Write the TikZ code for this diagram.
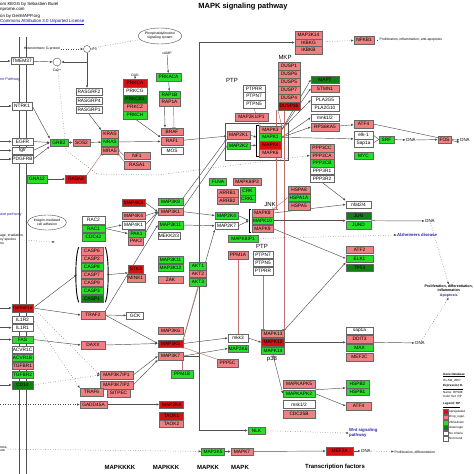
\documentclass[tikz,border=0pt]{standalone}
\usepackage{fontspec}
\setmainfont{Liberation Sans}
\usetikzlibrary{arrows.meta,shapes.geometric}
\definecolor{pinkc}{RGB}{238,128,128}
\definecolor{redc}{RGB}{212,16,16}
\definecolor{greenc}{RGB}{40,222,40}
\definecolor{dgreenc}{RGB}{16,128,16}
\definecolor{linec}{RGB}{80,80,80}
\definecolor{inhc}{RGB}{190,112,112}
\definecolor{pathc}{RGB}{40,40,170}
\pgfdeclarelayer{bg}
\pgfsetlayers{bg,main}

\begin{document}
\begin{tikzpicture}[x=1pt,y=-1pt,
  gene/.style={draw=black!60,line width=.4pt,minimum width=#1,minimum height=7.4pt,inner sep=0pt,font=\fontsize{4.8}{5}\selectfont},
  gene/.default=22pt,
  pk/.style={fill=pinkc},rd/.style={fill=redc},gn/.style={fill=greenc},dg/.style={fill=dgreenc},wh/.style={fill=white},
  lab/.style={font=\fontsize{6}{6}\selectfont,inner sep=0pt},
  note/.style={font=\fontsize{3.4}{3.9}\selectfont,inner sep=.5pt},
  dna/.style={font=\fontsize{4.4}{4.4}\selectfont,inner sep=.5pt},
  hdr/.style={font=\fontsize{4.4}{4.4}\selectfont,inner sep=0pt},
  lgd/.style={font=\fontsize{3}{3}\selectfont,inner sep=0pt},
  keybox/.style={draw=black!60,line width=.3pt,minimum size=4.5pt,inner sep=0pt},
  pathway/.style={font=\bfseries\fontsize{4.3}{4.8}\selectfont,text=pathc,inner sep=0pt},
  edgepath/.style={font=\fontsize{3.8}{4}\selectfont,text=pathc,inner sep=0pt},
  tier/.style={font=\bfseries\fontsize{6}{6}\selectfont,inner sep=0pt},
  arr/.style={draw=linec,line width=.45pt,-{Latex[length=2.6pt,width=2.2pt]}},
  con/.style={draw=linec,line width=.45pt},
  inh/.style={draw=inhc,line width=.45pt,-{Bar[width=3.5pt]}},
  dots/.style={draw=linec,line width=.5pt,dotted},
  brk/.style={draw=black,line width=.9pt}]
\useasboundingbox (0,0) rectangle (474,474);

% header and title
\node[font=\bfseries\fontsize{7.5}{7.5}\selectfont] (title) at (243,7) {MAPK signaling pathway};
\node[hdr,anchor=west] (hd1) at (0,4) {om KEGG by Sebastien Burel};
\node[hdr,anchor=west] (hd2) at (0,10) {nprome.com};
\node[hdr,anchor=west] (hd3) at (0,16) {on by GenMAPP.org};
\node[hdr,anchor=west,text=blue!75!black] (hd4) at (0,22) {\underline{Commons Attribution 3.0 Unported License}};

% calcium and PKC
\node[gene,wh,line width=.7pt] (TMEM37) at (22,61) {TMEM37};
\node[circle,draw=linec,minimum size=8pt,inner sep=0pt] (Ca) at (57,62) {};
\node[note] (Calab) at (57,70) {Ca2+};
\node[circle,draw=linec,minimum size=7pt,inner sep=0pt] (IP3) at (87,49) {};
\node[note,anchor=west] (IP3lab) at (91,49) {IP3};
\node[note] (hetG) at (42,49) {Heterotrimeric G-protein};
\node[ellipse,draw=linec,minimum width=44pt,minimum height=16pt,inner sep=0pt,align=center,font=\fontsize{3.4}{3.8}\selectfont] (PIS) at (160,36) {Phosphatidylinositol\\signaling system};
\node[edgepath,anchor=west] (paA) at (0,80) {ne Pathway};
\node[gene=20pt,wh] (NTRK1) at (22,106) {NTRK1};
\node[gene=26pt,wh,line width=.7pt] (RASGRF2) at (89,92) {RASGRF2};
\node[gene=26pt,wh,line width=.7pt] (RASGRP4) at (89,101) {RASGRP4};
\node[gene=26pt,wh,line width=.7pt] (RASGRP1) at (89,110) {RASGRP1};
\node[note] (DAG) at (135,75) {DAG};
\node[gene=24pt,rd] (PRKCA) at (135,83) {PRKCA};
\node[gene=24pt,wh] (PRKCG) at (135,91) {PRKCG};
\node[gene=24pt,dg] (PRKCB1) at (135,99) {PRKCB1};
\node[gene=24pt,pk] (PRKCZ) at (135,107) {PRKCZ};
\node[gene=24pt,gn] (PRKCH) at (135,115) {PRKCH};
\node[note] (cAMP) at (167,53) {cAMP};
\node[gene=25pt,gn] (PRKACA) at (168.5,77) {PRKACA};
\node[gene=21pt,gn] (RAP1B) at (169.5,95) {RAP1B};
\node[gene=21pt,pk] (RAP1A) at (169.5,102) {RAP1A};

% NF-kB branch
\node[gene=27pt,pk] (MAP3K14) at (308.5,35) {MAP3K14};
\node[gene=27pt,pk] (IKBKG) at (308.5,42.5) {IKBKG};
\node[gene=27pt,pk] (IKBKB) at (308.5,50) {IKBKB};
\node[gene=20pt,pk] (NFKB1) at (364,40) {NFKB1};
\node[note,anchor=west] (prolA) at (379,40) {Proliferation, inflammation, anti-apoptosis};

% phosphatases
\node[lab] (MKP) at (285,57) {MKP};
\node[gene,pk] (DUSP1) at (289,66) {DUSP1};
\node[gene,pk] (DUSP6) at (289,74) {DUSP6};
\node[gene,pk] (DUSP5) at (289,82) {DUSP5};
\node[gene,pk] (DUSP7) at (289,90) {DUSP7};
\node[gene,pk] (DUSP4) at (289,98) {DUSP4};
\node[gene,rd] (DUSP16) at (289,106) {DUSP16};
\node[lab] (PTPa) at (232,80) {PTP};
\node[gene,wh] (PTPRR) at (254,88.5) {PTPRR};
\node[gene,wh] (PTPN7) at (254,96) {PTPN7};
\node[gene,wh] (PTPN5) at (254,104) {PTPN5};

% ERK targets
\node[gene=28pt,dg] (MAPT) at (325,79.5) {MAPT};
\node[gene=28pt,pk] (STMN1) at (325,88.5) {STMN1};
\node[gene=28pt,wh] (PLA2G5) at (325,100) {PLA2G5};
\node[gene=28pt,wh] (PLA2G10) at (325,107.5) {PLA2G10};
\node[gene=28pt,wh] (mnk12) at (325,117.5) {mnk1/2};
\node[gene=28pt,pk] (RPS6KA5) at (325,127) {RPS6KA5};
\node[gene=19pt,pk] (ATF4a) at (363.5,124) {ATF4};
\node[gene=19pt,wh] (elk1) at (363.5,135) {elk-1};
\node[gene=19pt,wh] (Sap1a) at (363.5,143) {Sap1a};
\node[gene=15pt,gn] (SRF) at (386.5,139.5) {SRF};
\node[dna] (dnaA) at (411,140) {DNA};
\node[gene=13pt,pk] (FOS) at (444.5,139.5) {FOS};
\node[dna] (dnaB) at (465,140) {DNA};
\node[gene=19pt,gn] (MYC) at (363.5,155.5) {MYC};
\node[gene=24pt,pk] (PPP3CC) at (322,148) {PPP3CC};
\node[gene=24pt,pk] (PPP3CA) at (322,155.5) {PPP3CA};
\node[gene=24pt,gn] (PPP3CB) at (322,163) {PPP3CB};
\node[gene=24pt,wh] (PPP3R1) at (322,170.5) {PPP3R1};
\node[gene=24pt,wh] (PPP3R2) at (322,178.5) {PPP3R2};

% JNK and p38 targets
\node[gene=25pt,wh] (nfat) at (358.5,204.5) {nfat2/4};
\node[gene=25pt,dg] (JUN) at (358.5,215.5) {JUN};
\node[gene=25pt,gn] (JUND) at (358.5,225) {JUND};
\node[dna] (dnaC) at (430,221) {DNA};
\node[pathway] (Alz) at (417,235) {Alzheimers disease};
\node[gene=27pt,pk] (ATF2) at (359.5,249.5) {ATF2};
\node[gene=27pt,gn] (ELK1) at (359.5,258.5) {ELK1};
\node[gene=27pt,dg] (TP53) at (359.5,267.5) {TP53};
\node[font=\bfseries\fontsize{3.6}{4.6}\selectfont,align=center,inner sep=0pt,anchor=east] (prolB) at (473,291) {Proliferation, differentiation,\\inflammation\\\textcolor{pathc}{Apoptosis}};
\node[gene=27pt,wh] (sap1a) at (359.5,330.5) {sap1a};
\node[gene=27pt,pk] (DDIT3) at (359.5,339) {DDIT3};
\node[gene=27pt,gn] (MAX) at (359.5,347.5) {MAX};
\node[gene=27pt,pk] (MEF2C) at (359.5,357) {MEF2C};
\node[dna] (dnaD) at (420,343) {DNA};
\node[gene=23pt,gn] (HSPB2) at (357.5,384) {HSPB2};
\node[gene=23pt,gn] (HSPB1) at (357.5,391.5) {HSPB1};
\node[gene=25pt,pk] (ATF4b) at (358.5,406) {ATF4};
\node[pathway,align=left,anchor=west] (Wnt) at (349,433) {Wnt signaling\\pathway};
\node[gene=27pt,rd] (MEF2A) at (339.5,451) {MEF2A};
\node[dna] (dnaE) at (366,451) {DNA};
\node[note,anchor=west] (prolC) at (394,452) {Proliferation, differentiation};

% legend
\node[lgd,anchor=west] (lg1) at (443,375) {\textbf{\textit{\underline{Gene Database}}}};
\node[lgd,anchor=west] (lg2) at (443,380.5) {Hs-Std\_2007};
\node[lgd,anchor=west] (lg3) at (443,387) {\textbf{\textit{\underline{Expression D.}}}};
\node[lgd,anchor=west] (lg4) at (443,392) {Name: RPS08};
\node[lgd,anchor=west] (lg5) at (443,396.5) {Color Set: RP};
\node[lgd,anchor=west] (lg6) at (443,405) {\textbf{\textit{\underline{Legend: RP}}}};
\node[keybox,fill=redc] (k1) at (445.5,411.5) {};
\node[keybox,fill=pinkc] (k2) at (445.5,417) {};
\node[keybox,fill=greenc] (k3) at (445.5,422.5) {};
\node[keybox,fill=dgreenc] (k4) at (445.5,427.5) {};
\node[keybox,fill=white] (k5) at (445.5,433) {};
\node[keybox,fill=white] (k6) at (445.5,438.5) {};
\node[lgd,anchor=west] (kt1) at (449,411.5) {upregulated};
\node[lgd,anchor=west] (kt2) at (449,417) {Drop\_regul.};
\node[lgd,anchor=west] (kt3) at (449,422.5) {2fold-down};
\node[lgd,anchor=west] (kt4) at (449,427.5) {downregul.};
\node[lgd,anchor=west] (kt5) at (449,433) {No criteria};
\node[lgd,anchor=west] (kt6) at (449,438.5) {Not found};

% growth factor receptors and Ras
\node[gene=21pt,wh] (EGFR) at (22.5,141.5) {EGFR};
\node[gene=21pt,wh] (fgfr) at (22.5,150.5) {fgfr};
\node[gene=21pt,wh] (PDGFRB) at (22.5,159) {PDGFRB};
\node[gene=18pt,gn] (GRB2) at (59,142.5) {GRB2};
\node[gene=17pt,pk] (SOS2) at (81.5,142.5) {SOS2};
\node[gene=17pt,pk] (KRAS) at (110,134) {KRAS};
\node[gene=17pt,gn] (NRAS) at (110,142) {NRAS};
\node[gene=17pt,pk] (MRAS) at (110,150.5) {MRAS};
\node[gene=26pt,pk] (NF1) at (137,155.5) {NF1};
\node[gene=26pt,pk] (RASA1) at (137,165) {RASA1};
\node[gene=20pt,gn] (GNA12) at (37,179) {GNA12};
\node[gene=21pt,rd] (RASA2) at (76,179) {RASA2};
\node[gene,pk] (BRAF) at (172,131.5) {BRAF};
\node[gene,pk] (RAF1) at (172,141.3) {RAF1};
\node[gene,wh] (MOS) at (172,150.7) {MOS};
\node[gene=33pt,pk] (MAP2K1IP1) at (251.5,117) {MAP2K1IP1};
\node[gene=23pt,pk] (MAP2K1) at (238.5,135) {MAP2K1};
\node[gene=23pt,gn] (MAP2K2) at (238.5,145.5) {MAP2K2};
\node[gene,pk] (MAPK3) at (270.5,129.7) {MAPK3};
\node[gene,gn] (MAPK1) at (270.5,137.3) {MAPK1};
\node[gene,rd] (MAPK4) at (270.5,145.3) {MAPK4};
\node[gene,pk] (MAPK6) at (270.5,153) {MAPK6};

% small GTPases and MAP4K
\node[ellipse,draw=linec,minimum width=39pt,minimum height=15pt,inner sep=0pt,align=center,font=\fontsize{3.4}{3.8}\selectfont] (ITG) at (47,222.5) {Integrin-mediated\\cell adhesion};
\node[edgepath,anchor=west] (paB) at (0,215) {ase pathway};
\node[note,anchor=north west,align=left,inner sep=0pt] (stress) at (0,234) {age, irradiation,\\xy species\\ns};
\coordinate (stressend) at (55,242);
\node[gene=23pt,wh] (RAC2) at (93.5,220) {RAC2};
\node[gene=23pt,gn] (RAC1) at (93.5,228.5) {RAC1};
\node[gene=23pt,gn] (CDC42) at (93.5,237) {CDC42};
\node[gene=23pt,rd] (MAP4K3) at (133.5,202.5) {MAP4K3};
\node[gene=23pt,pk] (MAP4K4) at (133.5,215.7) {MAP4K4};
\node[gene=23pt,wh] (MAP4K1) at (133.5,225) {MAP4K1};
\node[gene=17pt,gn] (PAK1) at (136.5,233.5) {PAK1};
\node[gene=15pt,pk] (PAK2) at (136,241) {PAK2};

% MAPKKK column
\node[gene=25pt,gn] (MAP3K8) at (170.5,201.7) {MAP3K8};
\node[gene=25pt,pk] (MAP3K1) at (170.5,211.7) {MAP3K1};
\node[gene=25pt,gn] (MAP3K11a) at (170.5,225) {MAP3K11};
\node[gene=22pt,wh] (MEKK23) at (169,235.5) {MEKK2/3};
\node[gene=25pt,gn] (MAP3K11b) at (170.5,259.5) {MAP3K11};
\node[gene=25pt,gn] (MAP3K12) at (170.5,267.7) {MAP3K12};
\node[gene=25pt,pk] (ZAK) at (170.5,279.7) {ZAK};
\node[gene=25pt,pk] (MAP3K6) at (170.5,330.5) {MAP3K6};
\node[gene=25pt,rd] (MAP3K5) at (170.5,343.5) {MAP3K5};
\node[gene=25pt,pk] (MAP3K7) at (170.5,356) {MAP3K7};
\node[gene=24pt,rd] (MAP3K4) at (171.5,404.5) {MAP3K4};
\node[gene=24pt,rd] (TAOK1) at (171.5,416) {TAOK1};
\node[gene=24pt,pk] (TAOK2) at (171.5,423.5) {TAOK2};
\node[gene,gn] (PPM1B) at (182,374) {PPM1B};

% JNK module
\node[gene=17pt,gn] (FLNA) at (218,181.5) {FLNA};
\node[gene=28pt,pk] (MAPK8IP3) at (247,181.5) {MAPK8IP3};
\node[gene=21pt,pk] (ARRB1) at (227.5,193) {ARRB1};
\node[gene=21pt,pk] (ARRB2) at (227.5,200.7) {ARRB2};
\node[gene=15pt,gn] (CRK) at (247.5,191.3) {CRK};
\node[gene=15pt,gn] (CRKL) at (247.5,198.7) {CRKL};
\node[lab] (JNK) at (270,204) {JNK};
\node[gene=21pt,pk] (MAPK8) at (262.5,213) {MAPK8};
\node[gene=21pt,gn] (MAPK10) at (262.5,220.7) {MAPK10};
\node[gene=21pt,pk] (MAPK9) at (262.5,228.7) {MAPK9};
\node[gene=23pt,gn] (MAP2K4) at (226.5,215.5) {MAP2K4};
\node[gene=23pt,wh] (MAP2K7) at (226.5,225.8) {MAP2K7};
\node[gene,pk] (HSPA8) at (299,189.7) {HSPA8};
\node[gene,gn] (HSPA1A) at (299,197.7) {HSPA1A};
\node[gene,pk] (HSPA5) at (299,206.3) {HSPA5};
\node[gene=30pt,gn] (MAPK8IP1) at (243,238.5) {MAPK8IP1};

% p38 module
\node[gene=20pt,pk] (PPM1A) at (238,255) {PPM1A};
\node[lab] (PTPb) at (262,246) {PTP};
\node[gene=20pt,wh] (PTPN7b) at (263,254.5) {PTPN7};
\node[gene=20pt,wh] (PTPN5b) at (263,262.7) {PTPN5};
\node[gene=20pt,wh] (PTPRRb) at (263,271) {PTPRR};
\node[gene=17pt,gn] (AKT1) at (198,266) {AKT1};
\node[gene=17pt,pk] (AKT2) at (198,273.7) {AKT2};
\node[gene=17pt,gn] (AKT3) at (198,282) {AKT3};
\node[gene=21pt,pk] (PPP5C) at (227.5,363) {PPP5C};
\node[gene=20pt,wh] (mkk3) at (238,338) {mkk3};
\node[gene=20pt,gn] (MAP2K6) at (238,348.5) {MAP2K6};
\node[gene=23pt,pk] (MAPK13) at (273,333.7) {MAPK13};
\node[gene=23pt,rd] (MAPK12) at (273,342.3) {MAPK12};
\node[gene=23pt,gn] (MAPK14) at (273,350.7) {MAPK14};
\node[lab] (p38) at (272,359) {p38};
\node[gene=32pt,pk] (MAPKAPK5) at (299,384) {MAPKAPK5};
\node[gene=32pt,gn] (MAPKAPK2) at (299,393.7) {MAPKAPK2};
\node[gene=32pt,wh] (msk12) at (299,404.3) {msk1/2};
\node[gene=32pt,pk] (CDC25B) at (299,414.3) {CDC25B};
\node[gene=17pt,gn] (NLK) at (256.5,430.5) {NLK};
\node[gene=23pt,gn] (MAP2K5) at (213,451.5) {MAP2K5};
\node[gene,pk] (MAPK7) at (242,451.5) {MAPK7};
\node[note,anchor=north west,align=left,inner sep=0pt] (serum) at (0,446) {ress,\\ure};

% stress receptors and adaptors
\node[gene=21pt,rd,font=\fontsize{3.8}{4}\selectfont] (TNFRSF1A) at (22.5,308) {TNFRSF1A};
\node[gene=21pt,wh] (IL1R2) at (22.5,319.5) {IL1R2};
\node[gene=21pt,wh] (IL1R1) at (22.5,327.7) {IL1R1};
\node[gene=21pt,gn] (FAS) at (22.5,339.5) {FAS};
\node[gene=21pt,wh] (ACVR1C) at (22.5,349.5) {ACVR1C};
\node[gene=21pt,gn] (ACVR1B) at (22.5,357.5) {ACVR1B};
\node[gene=21pt,pk] (TGFBR1) at (22.5,365.7) {TGFBR1};
\node[gene=21pt,gn] (TGFBR2) at (22.5,374.5) {TGFBR2};
\node[gene=21pt,dg] (CD14) at (22.5,385) {CD14};
\node[gene,pk] (CASP6) at (92,251) {CASP6};
\node[gene,pk] (CASP2) at (92,258.9) {CASP2};
\node[gene,gn] (CASP8) at (92,266.8) {CASP8};
\node[gene,pk] (CASP7) at (92,274.7) {CASP7};
\node[gene,pk] (CASP9) at (92,282.6) {CASP9};
\node[gene,gn] (CASP3) at (92,290.5) {CASP3};
\node[gene,dg] (CASP1) at (92,298.4) {CASP1};
\node[gene=15pt,rd] (STK3) at (135.8,269) {STK3};
\node[gene=18pt,pk] (MINK1) at (135.8,278.2) {MINK1};
\node[gene=24pt,pk] (TRAF2) at (93,315) {TRAF2};
\node[gene=17pt,wh] (GCK) at (135,315.5) {GCK};
\node[gene=24pt,pk] (DAXX) at (93,345) {DAXX};
\node[gene=33pt,pk] (MAP3K7IP1) at (116.5,375) {MAP3K7IP1};
\node[gene=33pt,pk] (MAP3K7IP2) at (116.5,385) {MAP3K7IP2};
\node[gene=23pt,pk] (TRAF6) at (91.5,392) {TRAF6};
\node[gene=23pt,pk] (SITPEC) at (118.5,393) {SITPEC};
\node[gene=27pt,pk] (GADD45A) at (93.5,404.5) {GADD45A};

% tier labels
\node[tier] (tk4) at (120,467) {MAPKKKK};
\node[tier] (tk3) at (166,467) {MAPKKK};
\node[tier] (tk2) at (208,467) {MAPKK};
\node[tier] (tk1) at (240,467) {MAPK};
\node[tier,anchor=west] (ttf) at (305,467) {Transcription factors};

% free ends
\coordinate (inTM) at (0,61);
\coordinate (inNT) at (0,106);
\coordinate (inEG) at (0,141.5);
\coordinate (inFG) at (0,150.5);
\coordinate (inPD) at (0,159);
\coordinate (inTN) at (0,308);
\coordinate (inIL) at (0,327.7);
\coordinate (inFA) at (0,339.5);
\coordinate (inCD) at (0,385);
\coordinate (inGA) at (0,404.5);
\coordinate (takx) at (199,0);
\coordinate (dspA) at ([xshift=-13pt]DUSP16.south);
\coordinate (dspB) at ([xshift=-5pt]DUSP16.south);

% brackets
\draw[brk] ([xshift=-.5pt]MAPK3.north west) -- ++(-2,0) |- ([xshift=-.5pt]MAPK6.south west);
\draw[brk] ([xshift=-.5pt]MAPK8.north west) -- ++(-2,0) |- ([xshift=-.5pt]MAPK9.south west);
\draw[brk] ([xshift=-2pt]CASP6.north west) .. controls +(-4,8) and +(-4,-8) .. ([xshift=-2pt]CASP1.south west);
\draw[brk] ([xshift=2pt]CASP6.north east) .. controls +(4,8) and +(4,-8) .. ([xshift=2pt]CASP1.south east);

\begin{pgfonlayer}{bg}
\fill[white] (0,0) rectangle (474,474);
\draw[linec,line width=.5pt] (19,37) -- (19,474);
\draw[linec,line width=.5pt] (26,37) -- (26,474);
\draw[linec,line width=.5pt] (225,123) rectangle (288,160);
% calcium, PKC, Ras
\draw[arr] (inTM) -- (TMEM37);
\draw[arr] (TMEM37) -- (Ca);
\draw[dots,arr] (hetG) -- (IP3);
\draw[dots] (IP3) -- (PIS);
\draw[arr] (IP3) |- (Ca);
\draw[arr] (IP3 |- Ca) -- (IP3 |- RASGRF2.north);
\draw[dots,arr] (Ca) -- (66,150) -- (97,174) -- (158,175) -- (PPP3CA.west);
\draw[arr] (DAG) -- (PRKCA);
\draw[arr] (cAMP) -- (PRKACA);
\draw[arr] (PRKACA) -- (RAP1B);
\draw[arr] ([xshift=-5pt]RAP1A.south) -- ([xshift=-7pt]BRAF.north);
\draw[inh] ([xshift=4pt]RAP1A.south) -- ([xshift=2pt]BRAF.north);
\draw[arr] (RASGRP1.south) -- (KRAS.north west);
\draw[arr] (PRKCH.south) -- (RAF1.north west);
\draw[arr] (inNT) -- (NTRK1);
\draw[arr] (NTRK1.east) -- (GRB2.north west);
\draw[arr] (inEG) -- (EGFR);
\draw[arr] (inFG) -- (fgfr);
\draw[arr] (inPD) -- (PDGFRB);
\draw[arr] (EGFR.east) -- (GRB2.west);
\draw[arr] (fgfr.east) -- (GRB2.west);
\draw[arr] (PDGFRB.east) -- (GRB2.south west);
\draw[arr] (GRB2) -- (SOS2);
\draw[arr] (SOS2) -- (NRAS);
\draw[arr] (NRAS) -- (RAF1);
\draw[inh] (NF1.west) -- (MRAS.east);
\draw[inh] (RASA1.north west) -- (MRAS.south east);
\draw[arr] (GNA12) -- (RASA2);
\draw[inh] (RASA2.north east) -- (MRAS.south west);
% ERK module
\draw[arr] (RAF1) -- (MAP2K1);
\draw[arr] (MAP3K8.north east) -- (MAP2K1.south west);
\draw[arr] (MAP3K1.north east) -- (MAP2K2.west);
\draw[arr] (MAP2K1.east) -- ([xshift=-3pt]MAPK1.west);
\draw[arr] (MAP2K2.east) -- ([xshift=-3pt]MAPK4.west);
\draw[arr] (MAPK3.east) -- (MAPT.west);
\draw[arr] (MAPK3.east) -- (STMN1.west);
\draw[arr] (MAPK3.east) -- (PLA2G5.west);
\draw[arr] (MAPK1.east) -- (mnk12.west);
\draw[arr] (MAPK1.east) -- (RPS6KA5.west);
\draw[arr] (MAPK1.east) -- (elk1.south west);
\draw[arr] (RPS6KA5) -- (ATF4a);
\draw[arr] (ATF4a.east) -- (dnaB.south west);
\draw[con] (elk1.east) -- (SRF.west);
\draw[con] (Sap1a.east) -- (SRF.west);
\draw[arr] (SRF) -- (dnaA);
\draw[arr] (dnaA) -- (FOS);
\draw[arr] (FOS) -- (dnaB);
\draw[dots,arr] (IKBKG) -- (NFKB1);
\draw[dots] (NFKB1) -- (prolA);
\draw[inh] (DUSP16.south west) -- (MAPK3.north east);
\draw[inh] (dspA) -- (dspA |- MAPK8.north);
\draw[inh] (dspB) -- (dspB |- MAPK13.north);
\draw[inh] (PTPN5.south) -- (MAPK3.north west);
% JNK module
\draw[arr] (MAP4K3.east) -- (MAP3K1.west);
\draw[arr] (MAP4K4.east) -- (MAP3K1.west);
\draw[arr] (MAP4K1.east) -- (MAP3K1.west);
\draw[arr] (PAK1.east) -- (MAP3K1.west);
\draw[arr] (RAC1.east) -- (MAP4K1.west);
\draw[arr] (RAC1.east) -- (PAK1.west);
\draw[dots,arr] (stress) -- (stressend);
\draw[arr] (MAP3K1.east) -- (MAP2K4.west);
\draw[arr] (MAP3K11a.east) -- (MAP2K7.west);
\draw[arr] (MAP2K4.east) -- ([xshift=-3pt]MAPK10.west);
\draw[arr] (MAP2K7.east) -- ([xshift=-3pt]MAPK10.west);
\draw[inh] (HSPA1A.west) -- (MAPK8.north east);
\draw[arr] (MAPK8.east) -- (nfat.west);
\draw[arr] (PPP3R2.south) -- (nfat.north west);
\draw[arr] (MAPK10.east) -- (MAPK10.east -| JUN.west);
\draw[arr] (MAPK10.east -| JUN.east) -- (dnaC);
\draw[arr] (MAPK9.east) -- (ELK1.west);
\draw[dots,arr] (MAPK8IP1.east) -- (Alz.west);
\draw[dots,arr] (dnaC) -- (prolB.north);
\draw[dots,arr] (dnaD) -- (prolB.south);
% stress receptors
\draw[arr] (inTN) -- (TNFRSF1A);
\draw[arr] (inIL) -- (IL1R1);
\draw[arr] (inFA) -- (FAS);
\draw[arr] (inCD) -- (CD14);
\draw[arr] (TNFRSF1A.east) -- ([xshift=-4pt]CASP7.west);
\draw[arr] (TNFRSF1A.east) -- (TRAF2.west);
\draw[dots,arr] (TNFRSF1A.east) -- (MAP3K7IP1.west);
\draw[dots,arr] (IL1R2.east) -- (TRAF6.north west);
\draw[dots,arr] (CD14.east) -- (MAP3K7IP1.west);
\draw[arr] (FAS.east) -- (DAXX.west);
\draw[arr] ([xshift=4pt]CASP7.east) -- (STK3.south west);
\draw[arr] (TRAF2) -- (GCK);
\draw[arr] (TRAF2.east) -- (MAP3K5.west);
\draw[arr] (DAXX.east) -- (MAP3K5.west);
\draw[arr] (TRAF2.north east) -- (MAP3K11a.west);
\draw[arr] (MAP3K7IP1.east) -- (MAP3K7.west);
\draw[arr] (MAP3K7IP2.east) -- (MAP3K7.south west);
\draw[dots,arr] (inGA) -- (GADD45A);
\draw[arr] (GADD45A) -- (MAP3K4);
% p38 module
\draw[arr] (MAP3K7.east) -- (MAP3K7.east -| takx) |- (IKBKG.west);
\draw[arr] (MAP3K7.east -| takx) |- (NLK.west);
\draw[arr] (MAP3K5.east) -- (mkk3.west);
\draw[arr] (MAP3K7.east) -- (MAP2K6.west);
\draw[arr] (MAP3K5.north east) -- (MAP2K7.south west);
\draw[inh] (AKT3.south) -- (MAP3K5.north east);
\draw[inh] (PPP5C.north west) -- (MAP3K5.south east);
\draw[inh] (PPM1B.north) -- (PPM1B.north |- MAP3K7.south);
\draw[inh] (PPM1A.south) -- (mkk3.north);
\draw[inh] (PTPRRb.south) -- (PTPRRb.south |- MAPK13.north);
\draw[arr] (mkk3.east) -- (MAPK12.west);
\draw[arr] (MAPK13.north east) -- (ELK1.south west);
\draw[arr] (MAPK12.east) -- (MAPK12.east -| sap1a.west);
\draw[arr] (MAPK12.east -| MAX.east) -- (dnaD);
\draw[arr] (MAPK14.south) -- (MAPKAPK2.west);
\draw[arr] (MAPKAPK2.north east) -- (HSPB2.south west);
\draw[arr] (MAPKAPK2.east) -- (ATF4b.west);
\draw[dots,arr] (NLK) -- (Wnt.west);
% ERK5 module
\draw[dots,arr] (serum) -- (MAP2K5);
\draw[arr] (MAP2K5) -- (MAPK7);
\draw[arr] (MAPK7) -- (MEF2A);
\draw[arr] (MEF2A) -- (dnaE);
\draw[dots,arr] (dnaE) -- (prolC);
\end{pgfonlayer}
\end{tikzpicture}
\end{document}
